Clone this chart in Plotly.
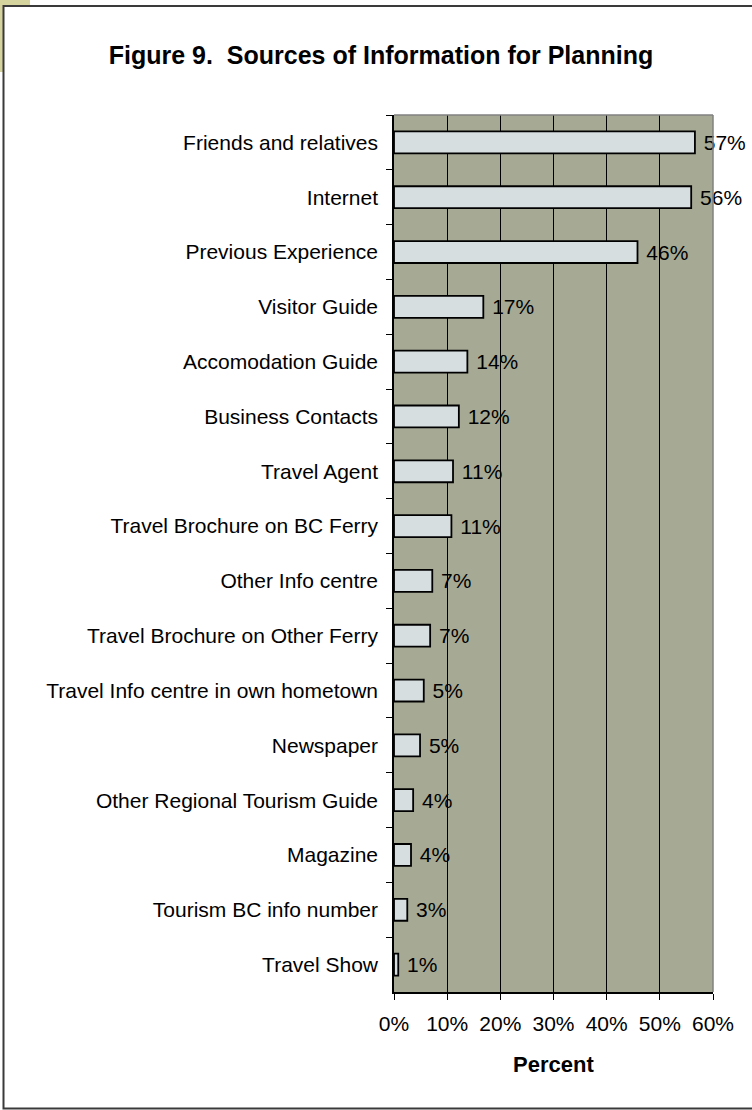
""" Figure 9 - Sources of information for planning (horizontal bar). """

import plotly.graph_objects as go

sources = [
    "Friends and relatives",
    "Internet",
    "Previous Experience",
    "Visitor Guide",
    "Accomodation Guide",
    "Business Contacts",
    "Travel Agent",
    "Travel Brochure on BC Ferry",
    "Other Info centre",
    "Travel Brochure on Other Ferry",
    "Travel Info centre in own hometown",
    "Newspaper",
    "Other Regional Tourism Guide",
    "Magazine",
    "Tourism BC info number",
    "Travel Show",
]
percent = [56.6, 55.9, 45.8, 16.8, 13.8, 12.2, 11.1, 10.8, 7.2, 6.8, 5.6, 4.9, 3.6, 3.2, 2.5, 0.8]
labels = ["57%", "56%", "46%", "17%", "14%", "12%", "11%", "11%",
          "7%", "7%", "5%", "5%", "4%", "4%", "3%", "1%"]

W, H = 752, 1110
L, R, T, B = 394, 39, 115, 118
PW, PH = W - L - R, H - T - B
FONT = "Liberation Sans, Arial, sans-serif"


def px(x):
    return (x - L) / PW


def py(y):
    return (H - B - y) / PH


fig = go.Figure(
    go.Bar(
        y=sources,
        x=percent,
        orientation="h",
        marker=dict(color="#d6dee0", line=dict(color="#000000", width=1.8)),
        text=["\u00a0" + t for t in labels],
        textposition="outside",
        constraintext="none",
        cliponaxis=False,
        textfont=dict(family=FONT, size=21, color="#000000"),
        hoverinfo="skip",
    )
)

fig.update_layout(
    width=W,
    height=H,
    margin=dict(l=L, r=R, t=T, b=B),
    paper_bgcolor="white",
    plot_bgcolor="#a6aa94",
    bargap=0.6,
    showlegend=False,
    font=dict(family=FONT, size=21, color="#000000"),
    title=dict(
        text="<b>Figure 9.  Sources of Information for Planning</b>",
        font=dict(family=FONT, size=25, color="#000000"),
        xref="container",
        yref="container",
        x=381 / W,
        y=1 - 55 / H,
        xanchor="center",
        yanchor="middle",
    ),
)

fig.update_xaxes(
    range=[0, 60],
    dtick=10,
    ticksuffix="%",
    ticks="outside",
    ticklen=6,
    tickcolor="#000000",
    showline=True,
    linecolor="#000000",
    linewidth=1.5,
    showgrid=True,
    gridcolor="#000000",
    gridwidth=1,
    zeroline=False,
    ticklabelstandoff=6,
    tickfont=dict(family=FONT, size=21),
)
fig.update_yaxes(
    type="category",
    autorange="reversed",
    tickson="boundaries",
    ticks="outside",
    ticklen=6,
    tickcolor="#000000",
    showline=True,
    linecolor="#000000",
    linewidth=1.5,
    showgrid=False,
    ticklabelstandoff=10,
    tickfont=dict(family=FONT, size=21),
)

# x-axis title
fig.add_annotation(
    text="<b>Percent</b>",
    xref="x domain",
    yref="paper",
    x=0.5,
    y=py(1064),
    xanchor="center",
    yanchor="middle",
    showarrow=False,
    font=dict(family=FONT, size=22, color="#000000"),
)

# gray plot-area border (top + right)
for x0, y0, x1, y1 in [(0, 1, 1, 1), (1, 0, 1, 1)]:
    fig.add_shape(type="line", xref="x domain", yref="y domain",
                  x0=x0, y0=y0, x1=x1, y1=y1,
                  line=dict(color="#808080", width=1.5))

# khaki corner peeking out behind the frame
fig.add_shape(type="rect", xref="paper", yref="paper", layer="below",
              x0=px(0), x1=px(3.5), y0=py(0), y1=py(72),
              line=dict(width=0), fillcolor="#d5d39e")
fig.add_shape(type="rect", xref="paper", yref="paper", layer="below",
              x0=px(0), x1=px(30), y0=py(0), y1=py(6),
              line=dict(width=0), fillcolor="#d5d39e")

# outer frame
fig.add_shape(type="rect", xref="paper", yref="paper",
              x0=px(3.5), x1=px(770), y0=py(6), y1=py(1108.5),
              line=dict(color="#3a3a3a", width=2))

fig.write_html(
    "out.html",
    config={"displayModeBar": False},
    post_script="document.body.style.margin='0';",
)
